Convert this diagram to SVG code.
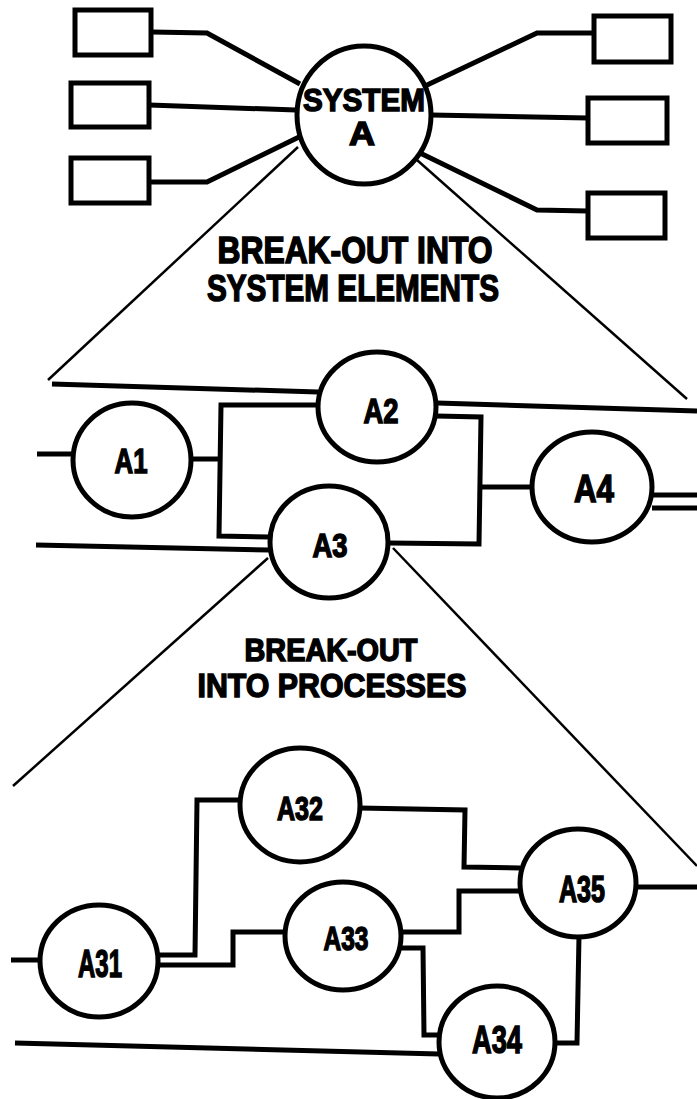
<svg xmlns="http://www.w3.org/2000/svg" width="697" height="1099" viewBox="0 0 697 1099">
<style>
.box{fill:#fff;stroke:#000;stroke-width:5}
.node{fill:#fff;stroke:#000;stroke-width:5}
.wire{fill:none;stroke:#000;stroke-width:5;stroke-linejoin:miter}
.thin{fill:none;stroke:#000;stroke-width:2.5}
.lbl{font-family:"Liberation Sans",Arial,sans-serif;font-weight:bold;fill:#000;stroke:#000;stroke-width:1.5;text-anchor:middle}
</style>
<rect width="697" height="1099" fill="#fff"/>
<g id="connectors">
  <polyline class="wire" points="152,32 207,33 300,84"/>
  <line class="wire" x1="149" y1="105" x2="296" y2="110"/>
  <polyline class="wire" points="149,182 207,182 299,137"/>
  <polyline class="wire" points="425,86 537,33 594,33"/>
  <line class="wire" x1="431" y1="115" x2="588" y2="118"/>
  <polyline class="wire" points="418,152 537,210 588,211"/>
  <line class="thin" x1="298" y1="147" x2="48" y2="380"/>
  <line class="thin" x1="417" y1="160" x2="687" y2="399"/>
  <line class="wire" x1="52" y1="384" x2="318" y2="392"/>
  <line class="wire" x1="437" y1="403" x2="697" y2="411"/>
  <line class="wire" x1="37" y1="454" x2="73" y2="454"/>
  <line class="wire" x1="192" y1="459" x2="220" y2="459"/>
  <polyline class="wire" points="318,405 221,405 219,536 270,537"/>
  <polyline class="wire" points="436,416 481,417 479,544 389,543"/>
  <line class="wire" x1="480" y1="487" x2="532" y2="487"/>
  <line class="wire" x1="36" y1="545" x2="270" y2="550"/>
  <line class="wire" x1="652" y1="495" x2="697" y2="495"/>
  <line class="wire" x1="652" y1="508" x2="697" y2="508"/>
  <line class="thin" x1="268" y1="558" x2="13" y2="786"/>
  <line class="thin" x1="393" y1="548" x2="697" y2="866"/>
  <line class="wire" x1="11" y1="960" x2="40" y2="960"/>
  <polyline class="wire" points="158,955 195,955 197,800 241,800"/>
  <polyline class="wire" points="359,808 465,810 464,867 520,868"/>
  <polyline class="wire" points="158,965 233,965 233,932 286,932"/>
  <polyline class="wire" points="401,932 459,932 459,891 520,891"/>
  <polyline class="wire" points="401,948 423,948 424,1035 440,1035"/>
  <polyline class="wire" points="554,1043 577,1043 579,936"/>
  <line class="wire" x1="636" y1="887" x2="697" y2="887"/>
  <line class="wire" x1="15" y1="1043" x2="439" y2="1054"/>
</g>
<g id="box-l1"><rect class="box" x="75" y="10" width="76" height="45"/></g>
<g id="box-l2"><rect class="box" x="71" y="83" width="78" height="44"/></g>
<g id="box-l3"><rect class="box" x="71" y="158" width="78" height="45"/></g>
<g id="box-r1"><rect class="box" x="594" y="16" width="77" height="46"/></g>
<g id="box-r2"><rect class="box" x="588" y="98" width="79" height="45"/></g>
<g id="box-r3"><rect class="box" x="588" y="193" width="77" height="45"/></g>
<g id="system-a">
  <ellipse class="node" cx="364" cy="115" rx="67" ry="69"/>
  <text class="lbl" x="364" y="111" font-size="32" textLength="122" lengthAdjust="spacingAndGlyphs">SYSTEM</text>
  <text class="lbl" x="362" y="145" font-size="33" textLength="26" lengthAdjust="spacingAndGlyphs">A</text>
</g>
<g id="title-1">
  <text class="lbl" x="355" y="263" font-size="36" textLength="275" lengthAdjust="spacingAndGlyphs">BREAK-OUT INTO</text>
  <text class="lbl" x="353" y="301" font-size="37" textLength="292" lengthAdjust="spacingAndGlyphs">SYSTEM ELEMENTS</text>
</g>
<g id="node-a1">
  <ellipse class="node" cx="132" cy="460" rx="59" ry="57"/>
  <text class="lbl" x="131" y="473" font-size="35" textLength="33" lengthAdjust="spacingAndGlyphs">A1</text>
</g>
<g id="node-a2">
  <ellipse class="node" cx="377" cy="407" rx="59" ry="55"/>
  <text class="lbl" x="381" y="423" font-size="35" textLength="35" lengthAdjust="spacingAndGlyphs">A2</text>
</g>
<g id="node-a3">
  <ellipse class="node" cx="329" cy="542" rx="59" ry="56"/>
  <text class="lbl" x="330" y="557" font-size="34" textLength="35" lengthAdjust="spacingAndGlyphs">A3</text>
</g>
<g id="node-a4">
  <ellipse class="node" cx="592" cy="487" rx="60" ry="55"/>
  <text class="lbl" x="594" y="502" font-size="38" textLength="40" lengthAdjust="spacingAndGlyphs">A4</text>
</g>
<g id="title-2">
  <text class="lbl" x="331" y="661" font-size="31" textLength="173" lengthAdjust="spacingAndGlyphs">BREAK-OUT</text>
  <text class="lbl" x="332" y="697" font-size="34" textLength="269" lengthAdjust="spacingAndGlyphs">INTO PROCESSES</text>
</g>
<g id="node-a31">
  <ellipse class="node" cx="99" cy="961" rx="59" ry="56"/>
  <text class="lbl" x="100" y="977" font-size="38" textLength="44" lengthAdjust="spacingAndGlyphs">A31</text>
</g>
<g id="node-a32">
  <ellipse class="node" cx="300" cy="805" rx="60" ry="57"/>
  <text class="lbl" x="300" y="820" font-size="34" textLength="46" lengthAdjust="spacingAndGlyphs">A32</text>
</g>
<g id="node-a33">
  <ellipse class="node" cx="343" cy="936" rx="58" ry="54"/>
  <text class="lbl" x="346" y="950" font-size="34" textLength="45" lengthAdjust="spacingAndGlyphs">A33</text>
</g>
<g id="node-a34">
  <ellipse class="node" cx="497" cy="1042" rx="58" ry="56"/>
  <text class="lbl" x="497" y="1053" font-size="38" textLength="50" lengthAdjust="spacingAndGlyphs">A34</text>
</g>
<g id="node-a35">
  <ellipse class="node" cx="578" cy="883" rx="58" ry="54"/>
  <text class="lbl" x="582" y="902" font-size="36" textLength="46" lengthAdjust="spacingAndGlyphs">A35</text>
</g>
</svg>
